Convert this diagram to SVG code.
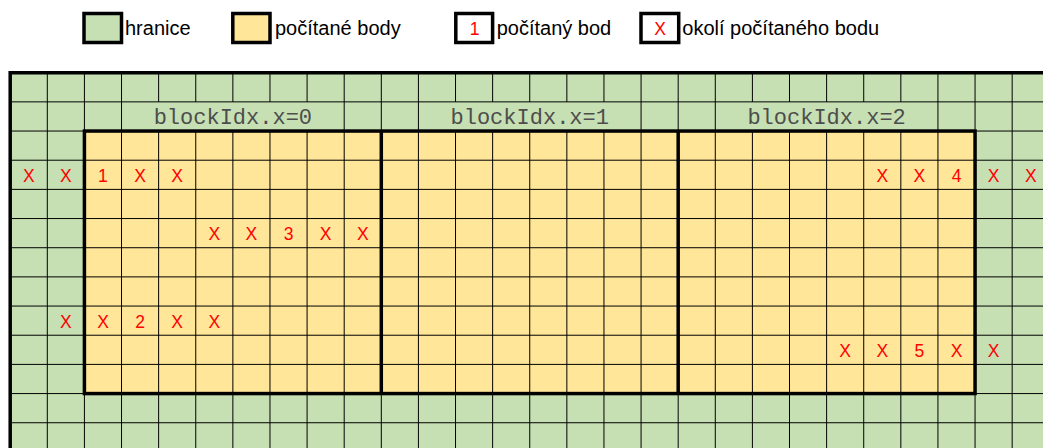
<svg xmlns="http://www.w3.org/2000/svg" width="1043" height="448" viewBox="0 0 1043 448">
<style>
.leg{font-family:"Liberation Sans",Arial,sans-serif;font-size:20px;fill:#000}
.red{font-family:"Liberation Sans",Arial,sans-serif;font-size:17.5px;fill:#ff0000;text-anchor:middle}
.blk{font-family:"Liberation Mono","Courier New",monospace;font-size:22px;fill:#4d4d4d;text-anchor:middle}
.box{stroke:#000;stroke-width:3.5}
.thin{fill:none;stroke:#000;stroke-width:1}
.thick{fill:none;stroke:#000;stroke-width:3.5}
</style>
<rect width="1043" height="448" fill="#ffffff"/>
<g id="legend">
  <g id="legend-hranice">
    <rect class="box" x="84" y="13.5" width="37.5" height="29" fill="#c6e0b4"/>
    <text class="leg" x="125" y="34.5">hranice</text>
  </g>
  <g id="legend-pocitane-body">
    <rect class="box" x="232.8" y="13.5" width="37.2" height="29" fill="#ffe699"/>
    <text class="leg" x="275" y="34.5">počítané body</text>
  </g>
  <g id="legend-pocitany-bod">
    <rect class="box" x="455.8" y="13.5" width="36.8" height="29" fill="#ffffff"/>
    <text class="red" x="474.5" y="34.5">1</text>
    <text class="leg" x="496.7" y="34.5">počítaný bod</text>
  </g>
  <g id="legend-okoli">
    <rect class="box" x="641" y="13.5" width="37.7" height="29" fill="#ffffff"/>
    <text class="red" x="660" y="34.5">X</text>
    <text class="leg" x="682.3" y="34.5">okolí počítaného bodu</text>
  </g>
</g>
<g id="grid">
  <rect id="boundary" x="10.2" y="72.7" width="1040" height="380" fill="#c6e0b4"/>
  <rect id="computed" x="84.42" y="131.04" width="890.64" height="262.53" fill="#ffe699"/>
  <path class="thin" d="M47.31 72.7V448M84.42 72.7V448M121.53 72.7V448M344.19 72.7V448M381.3 72.7V448M418.41 72.7V448M641.07 72.7V448M678.18 72.7V448M715.29 72.7V448M937.95 72.7V448M975.06 72.7V448M1012.17 72.7V448
  M158.64 72.7V101.87M158.64 131.04V448M195.75 72.7V101.87M195.75 131.04V448M232.86 72.7V101.87M232.86 131.04V448M269.97 72.7V101.87M269.97 131.04V448M307.08 72.7V101.87M307.08 131.04V448
  M455.52 72.7V101.87M455.52 131.04V448M492.63 72.7V101.87M492.63 131.04V448M529.74 72.7V101.87M529.74 131.04V448M566.85 72.7V101.87M566.85 131.04V448M603.96 72.7V101.87M603.96 131.04V448
  M752.4 72.7V101.87M752.4 131.04V448M789.51 72.7V101.87M789.51 131.04V448M826.62 72.7V101.87M826.62 131.04V448M863.73 72.7V101.87M863.73 131.04V448M900.84 72.7V101.87M900.84 131.04V448
  M10.2 101.87H1043M10.2 131.04H1043M10.2 160.21H1043M10.2 189.38H1043M10.2 218.55H1043M10.2 247.72H1043M10.2 276.89H1043M10.2 306.06H1043M10.2 335.23H1043M10.2 364.4H1043M10.2 393.57H1043M10.2 422.74H1043"/>
  <path class="thick" d="M10.2 450V72.7H1045"/>
  <rect class="thick" x="84.42" y="131.04" width="890.64" height="262.53"/>
  <path class="thick" d="M381.3 131.04V393.57M678.18 131.04V393.57"/>
</g>
<g id="block-labels">
  <text id="block0" class="blk" x="232.86" y="124">blockIdx.x=0</text>
  <text id="block1" class="blk" x="529.74" y="124">blockIdx.x=1</text>
  <text id="block2" class="blk" x="826.62" y="124">blockIdx.x=2</text>
</g>
<g id="points">
  <g id="point1">
    <text class="red" x="28.76" y="182">X</text>
    <text class="red" x="65.87" y="182">X</text>
    <text class="red" x="102.98" y="182">1</text>
    <text class="red" x="140.09" y="182">X</text>
    <text class="red" x="177.2" y="182">X</text>
  </g>
  <g id="point3">
    <text class="red" x="214.31" y="240.3">X</text>
    <text class="red" x="251.42" y="240.3">X</text>
    <text class="red" x="288.53" y="240.3">3</text>
    <text class="red" x="325.64" y="240.3">X</text>
    <text class="red" x="362.75" y="240.3">X</text>
  </g>
  <g id="point2">
    <text class="red" x="65.87" y="327.8">X</text>
    <text class="red" x="102.98" y="327.8">X</text>
    <text class="red" x="140.09" y="327.8">2</text>
    <text class="red" x="177.2" y="327.8">X</text>
    <text class="red" x="214.31" y="327.8">X</text>
  </g>
  <g id="point4">
    <text class="red" x="882.29" y="182">X</text>
    <text class="red" x="919.4" y="182">X</text>
    <text class="red" x="956.51" y="182">4</text>
    <text class="red" x="993.62" y="182">X</text>
    <text class="red" x="1030.73" y="182">X</text>
  </g>
  <g id="point5">
    <text class="red" x="845.18" y="357">X</text>
    <text class="red" x="882.29" y="357">X</text>
    <text class="red" x="919.4" y="357">5</text>
    <text class="red" x="956.51" y="357">X</text>
    <text class="red" x="993.62" y="357">X</text>
  </g>
</g>
</svg>
